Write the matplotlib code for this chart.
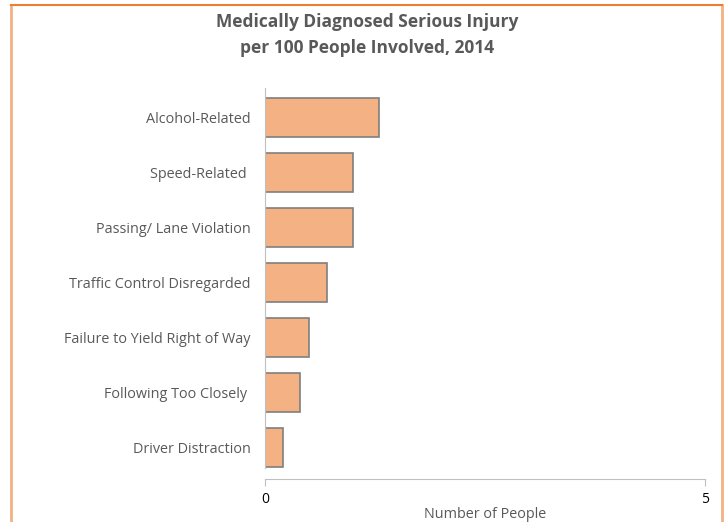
import matplotlib.pyplot as plt
from matplotlib.lines import Line2D

categories = ['Alcohol-Related', 'Speed-Related ', 'Passing/ Lane Violation',
              'Traffic Control Disregarded', 'Failure to Yield Right of Way',
              'Following Too Closely ', 'Driver Distraction']
values = [1.3, 1.0, 1.0, 0.7, 0.5, 0.4, 0.2]
x_ticks = [0, 5]

plt.rcParams['font.family'] = ['Open Sans', 'DejaVu Sans']
grey = '#595959'

fig = plt.figure(figsize=(7.28, 5.22), dpi=100)
ax = fig.add_axes([265 / 728, 1 - 468 / 522, 440 / 728, 380 / 522])

ypos = list(range(len(categories)))
ax.barh(ypos, values, height=0.71, color='#F4B183', edgecolor='#7F7F7F', linewidth=1.2)
ax.set_ylim(6.37, -0.54)
ax.set_xlim(0, 5)
ax.set_yticks(ypos)
ax.set_yticklabels(categories, fontsize=10.4, color=grey)
ax.tick_params(axis='y', length=0, pad=10.5)
ax.set_xticks(x_ticks)
ax.set_xticklabels([str(t) for t in x_ticks], fontsize=11.5, color=grey)
ax.tick_params(axis='x', length=5, color='#BFBFBF', pad=4)
ax.set_xlabel('Number of People', fontsize=10.4, color=grey, labelpad=0)

for s in ['top', 'right']:
    ax.spines[s].set_visible(False)
ax.spines['left'].set_color('#BFBFBF')
ax.spines['bottom'].set_color('#BFBFBF')
ax.spines['bottom'].set_position(('outward', 8))

fig.text(367 / 728, 1 - 22 / 522, 'Medically Diagnosed Serious Injury',
         ha='center', va='center', fontsize=12.5, fontweight='bold', color=grey)
fig.text(367 / 728, 1 - 48 / 522, 'per 100 People Involved, 2014',
         ha='center', va='center', fontsize=12.5, fontweight='bold', color=grey)

# chart border
x0, x1, y0 = 11 / 728, 722 / 728, 1 - 5 / 522
fig.add_artist(Line2D([x0, x0], [0, y0], color='#F4B183', lw=2, transform=fig.transFigure))
fig.add_artist(Line2D([x1, x1], [0, y0], color='#F4B183', lw=2, transform=fig.transFigure))
fig.add_artist(Line2D([x0, x1], [y0, y0], color='#ED7D31', lw=1.5, transform=fig.transFigure))

fig.savefig('out.png', dpi=100)
